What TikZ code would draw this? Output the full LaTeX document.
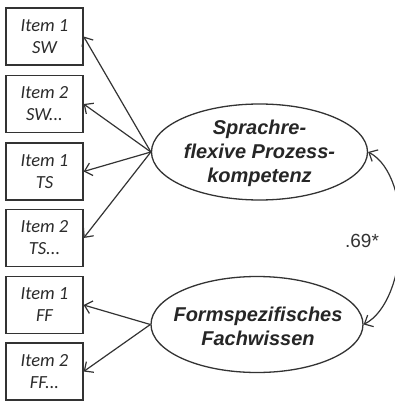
\documentclass[tikz,border=0pt]{standalone}
\usepackage{fontspec}
\setmainfont{Liberation Sans}
\newfontfamily\itemfont{Carlito}
\usetikzlibrary{arrows.meta,shapes.geometric}
\definecolor{ink}{HTML}{333333}
\tikzset{
  itembox/.style={draw=ink, line width=1.3pt, minimum width=77pt, minimum height=57pt,
    inner sep=0pt, align=center, font=\itemfont\itshape\fontsize{18.5}{22}\selectfont, text=ink!85!black},
  latent/.style={draw=ink, line width=1.3pt, ellipse, inner sep=0pt},
  latentlabel/.style={align=center, font=\bfseries\itshape\fontsize{20}{24}\selectfont, text=black!85},
  load/.style={draw=ink, line width=1.2pt, -{Straight Barb[length=7pt,width=13pt]}},
  corr/.style={draw=ink, line width=1.2pt, {Straight Barb[length=7pt,width=13pt]}-{Straight Barb[length=7pt,width=13pt]}}
}
\begin{document}
\begin{tikzpicture}[x=1pt,y=-1pt]
\useasboundingbox (0,0) rectangle (394,401);

% indicator items
\node[itembox] (i1) at (44.5,36.5) {Item 1\\SW};
\node[itembox] (i2) at (44.5,104)  {Item 2\\SW...};
\node[itembox] (i3) at (44.5,171.5) {Item 1\\TS};
\node[itembox] (i4) at (44.5,238)  {Item 2\\TS...};
\node[itembox] (i5) at (44.5,305)  {Item 1\\FF};
\node[itembox] (i6) at (44.5,371.5) {Item 2\\FF...};

% latent factors
\node[latent, minimum width=216pt, minimum height=96pt] (sp) at (259.5,152) {};
\node[latentlabel] (spt) at (259.5,153) {Sprachre-\\flexive Prozess-\\kompetenz};
\node[latent, minimum width=212pt, minimum height=96pt] (ff) at (257,324.5) {};
\node[latentlabel] (fft) at (258,326) {Formspezifisches\\Fachwissen};

% factor loadings
\foreach \i in {i1,i2,i3,i4} \draw[load] (sp.west) -- (\i.east);
\foreach \i in {i5,i6} \draw[load] (ff.west) -- (\i.east);

% factor correlation
\draw[corr] (sp.east) .. controls +(46,24) and +(46,-24) .. (ff.east);
\node[font=\fontsize{19}{22}\selectfont, text=ink, anchor=base] (r) at (362,247) {.69*};
\end{tikzpicture}
\end{document}
